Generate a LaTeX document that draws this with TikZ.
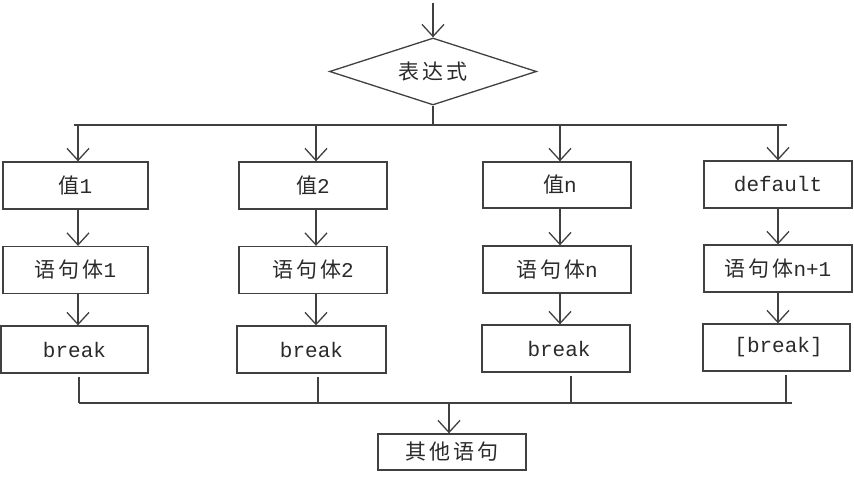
\documentclass[tikz,border=0pt]{standalone}
\usepackage{fontspec}
\setmainfont{Liberation Mono}
\newfontfamily\cjk{Noto Sans CJK SC}[LetterSpace=14]
\usetikzlibrary{shapes.geometric,arrows.meta,calc}
\definecolor{ln}{HTML}{404040}
\definecolor{tx}{HTML}{2a2a2a}
\newcommand{\zh}[1]{{\fontsize{21}{24}\selectfont\cjk #1}}
\tikzset{
  box/.style={draw=ln, line width=1.3pt, rectangle, inner sep=0pt, minimum width=148pt, minimum height=47pt, text=tx, font=\fontsize{21}{24}\selectfont},
  dec/.style={draw=ln, line width=1.3pt, diamond, aspect=3, inner sep=0pt, minimum width=207pt, minimum height=67pt, text=tx, font=\fontsize{21}{24}\selectfont},
  conn/.style={draw=ln, line width=1.3pt},
  arr/.style={conn, -{Straight Barb[length=12pt,width=22pt,line width=1.3pt]}}
}
\begin{document}
\begin{tikzpicture}[x=1pt,y=1pt]
\useasboundingbox (0,0) rectangle (854,489);
% top entry
\coordinate (start) at (433,486);
\node[dec] (expr) at (433,417.5) {\zh{表达式}};
% row 1
\node[box, minimum width=145pt] (v1) at (75.5,303.5) {\zh{值}1};
\node[box] (v2) at (313,303.5) {\zh{值}2};
\node[box, minimum height=46pt] (vn) at (557,304) {\hspace*{6pt}\zh{值}n};
\node[box] (vd) at (778,304.5) {default};
% row 2
\node[box, minimum width=145pt] (s1) at (75.5,219) {\zh{语句体}1};
\node[box] (s2) at (313,219) {\zh{语句体}2};
\node[box] (sn) at (557,219.5) {\zh{语句体}n};
\node[box] (sd) at (778,220.5) {\zh{语句体}n+1};
% row 3
\node[box, minimum width=147pt] (b1) at (74.5,139.5) {break};
\node[box, minimum width=149pt] (b2) at (311.5,139.5) {break};
\node[box] (bn) at (556,140.5) {\hspace*{6pt}break};
\node[box, minimum width=147pt] (bd) at (776.5,141.5) {\hspace*{4pt}[break]};
% final
\node[box, minimum height=36pt] (other) at (452,37) {\zh{其他语句}};

% column x positions
\coordinate (c1) at (78,0);
\coordinate (c2) at (316,0);
\coordinate (c3) at (560,0);
\coordinate (c4) at (778,0);
% top bus
\coordinate (busL) at (74,364);
\coordinate (busR) at (787,364);
\coordinate (busM) at (expr.south |- busL);
\draw[arr] (start) -- (expr.north);
\draw[conn] (expr.south) -- (busM);
\draw[conn] (busL) -- (busR);
\foreach \c/\n in {c1/v1,c2/v2,c3/vn,c4/vd}{
  \draw[arr] (busL -| \c) -- (\n.north -| \c);
}
\foreach \c/\a/\b in {c1/v1/s1,c2/v2/s2,c3/vn/sn,c4/vd/sd, c1/s1/b1,c2/s2/b2,c3/sn/bn,c4/sd/bd}{
  \draw[arr] (\a.south -| \c) -- (\b.north -| \c);
}
% bottom bus
\coordinate (botL) at (79,86);
\coordinate (botR) at (792,86);
\coordinate (d1) at (79,0);
\coordinate (d2) at (318,0);
\coordinate (d3) at (571,0);
\coordinate (d4) at (786,0);
\foreach \d/\n in {d1/b1,d2/b2,d3/bn,d4/bd}{
  \draw[conn] ($(\n.south -| \d)+(0,-3)$) -- (botL -| \d);
}
\draw[conn] (botL) -- (botR);
\coordinate (dm) at (449,0);
\draw[arr] (botL -| dm) -- (other.north -| dm);
\end{tikzpicture}
\end{document}
